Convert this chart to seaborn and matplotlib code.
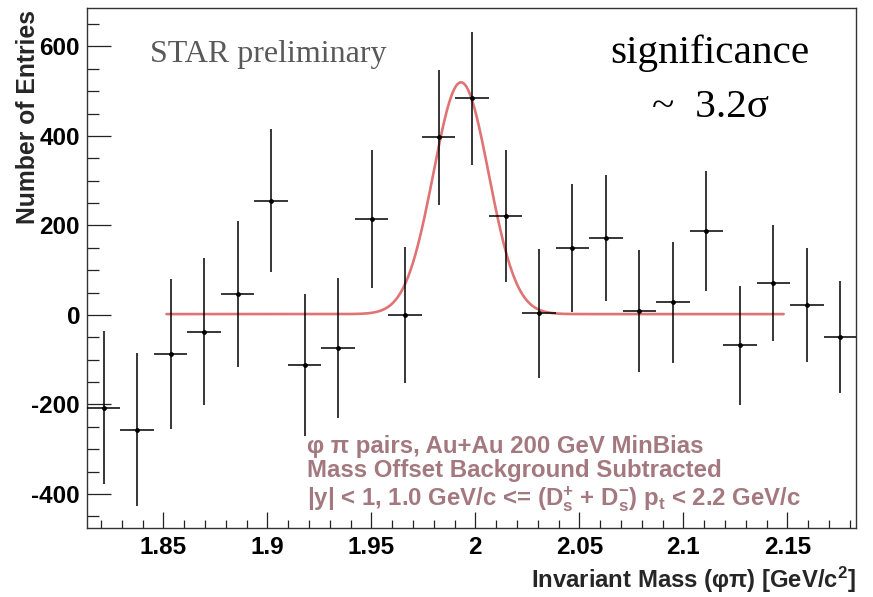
import numpy as np
import pandas as pd
import matplotlib
matplotlib.use("Agg")
import matplotlib.pyplot as plt
import seaborn as sns
from matplotlib.ticker import MultipleLocator

# ---- data ----
mass = [1.8213, 1.8374, 1.8535, 1.8696, 1.8857, 1.9018, 1.9179, 1.9340,
        1.9501, 1.9662, 1.9823, 1.9984, 2.0145, 2.0306, 2.0467, 2.0628,
        2.0789, 2.0950, 2.1111, 2.1272, 2.1433, 2.1594, 2.1755]
entries = [-207, -256, -87, -37, 46, 255, -112, -74,
           215, 0, 397, 484, 221, 4, 150, 172,
           9, 28, 187, -68, 71, 22, -49]
errors = [171, 170, 168, 164, 163, 160, 158, 156,
          154, 152, 151, 149, 147, 144, 143, 140,
          137, 136, 134, 133, 129, 127, 125]
bin_half_width = 0.00805

# Gaussian fit parameters
fit_amplitude = 518
fit_mean = 1.9931
fit_sigma = 0.0133
fit_baseline = 2
fit_range = (1.8515, 2.1482)

x_ticks = [1.85, 1.9, 1.95, 2.0, 2.05, 2.1, 2.15]
x_tick_labels = ["1.85", "1.9", "1.95", "2", "2.05", "2.1", "2.15"]
y_ticks = [-400, -200, 0, 200, 400, 600]
y_tick_labels = ["-400", "-200", "0", "200", "400", "600"]

df = pd.DataFrame({"mass": mass, "entries": entries, "err": errors})
fx = np.linspace(fit_range[0], fit_range[1], 400)
fit_df = pd.DataFrame({
    "mass": fx,
    "fit": fit_baseline + fit_amplitude * np.exp(-0.5 * ((fx - fit_mean) / fit_sigma) ** 2),
})

# ---- style ----
sns.set_theme(style="ticks")
plt.rcParams["font.family"] = ["Liberation Sans", "DejaVu Sans"]
plt.rcParams["mathtext.fontset"] = "custom"
plt.rcParams["mathtext.rm"] = "Liberation Sans:bold"
plt.rcParams["mathtext.it"] = "Liberation Sans:bold"
plt.rcParams["mathtext.bf"] = "Liberation Sans:bold"
plt.rcParams["mathtext.default"] = "bf"

fig = plt.figure(figsize=(8.73, 5.97), dpi=100)
ax = fig.add_axes([87 / 873, 1 - 528 / 597, 769 / 873, 520 / 597])

# fit curve
sns.lineplot(data=fit_df, x="mass", y="fit", ax=ax, color="#e07474",
             linewidth=1.9, zorder=2)

# data points with error bars
ax.errorbar(df["mass"], df["entries"], yerr=df["err"], xerr=bin_half_width,
            fmt="none", ecolor="black", elinewidth=1.1, capsize=0, zorder=3)
sns.scatterplot(data=df, x="mass", y="entries", ax=ax, color="black",
                s=12, linewidth=0, zorder=4)

ax.set_xlim(1.8133, 2.1830)
ax.set_ylim(-476, 686)

ax.set_xticks(x_ticks)
ax.set_xticklabels(x_tick_labels)
ax.set_yticks(y_ticks)
ax.set_yticklabels(y_tick_labels)
ax.xaxis.set_minor_locator(MultipleLocator(0.01))
ax.yaxis.set_minor_locator(MultipleLocator(50))

for lab in ax.get_xticklabels() + ax.get_yticklabels():
    lab.set_fontweight("bold")
    lab.set_fontsize(17.5)

ax.tick_params(axis="x", which="major", direction="in", length=11.5, width=0.9,
               pad=6, colors="#222222", labelcolor="black", top=False)
ax.tick_params(axis="x", which="minor", direction="in", length=5.8, width=0.9,
               colors="#222222", top=False)
ax.tick_params(axis="y", which="major", direction="in", length=17, width=0.9,
               pad=5, colors="#222222", labelcolor="black", right=False)
ax.tick_params(axis="y", which="minor", direction="in", length=8.6, width=0.9,
               colors="#222222", right=False)

for sp in ax.spines.values():
    sp.set_visible(True)
    sp.set_color("#333333")
    sp.set_linewidth(1.0)

ax.set_xlabel("Invariant Mass (φπ) [GeV/c$^{2}$]", fontsize=17.2,
              fontweight="bold", loc="right")
ax.xaxis.set_label_coords(1.0, -0.10)
ax.xaxis.label.set_va("center")
ax.set_ylabel("Number of Entries", fontsize=17.8, fontweight="bold", loc="top")
ax.yaxis.set_label_coords(-0.077, 0.996)
ax.yaxis.label.set_va("center")

# annotations
serif = ["Liberation Serif", "DejaVu Serif"]
ax.text(150 / 873, 1 - 62 / 597, "STAR preliminary", transform=fig.transFigure,
        family=serif, fontsize=23, color="#595959", ha="left", va="baseline")
ax.text(710 / 873, 1 - 63 / 597, "significance", transform=fig.transFigure,
        family=serif, fontsize=29.7, color="black", ha="center", va="baseline")
ax.text(710 / 873, 1 - 117 / 597, "~  3.2σ", transform=fig.transFigure,
        family=serif, fontsize=29.7, color="black", ha="center", va="baseline")

mauve = "#a4787f"
info_lines = [
    "φ π pairs, Au+Au 200 GeV MinBias",
    "Mass Offset Background Subtracted",
    "|y| < 1, 1.0 GeV/c <= (D$_{s}^{+}$ + D$_{s}^{-}$) p$_{t}$ < 2.2 GeV/c",
]
info_y = [446, 471, 499]
for line, yy in zip(info_lines, info_y):
    ax.text(307 / 873, 1 - yy / 597, line, transform=fig.transFigure,
            fontsize=17.3, fontweight="bold", color=mauve, ha="left", va="center")

fig.savefig("out.png", dpi=100)
